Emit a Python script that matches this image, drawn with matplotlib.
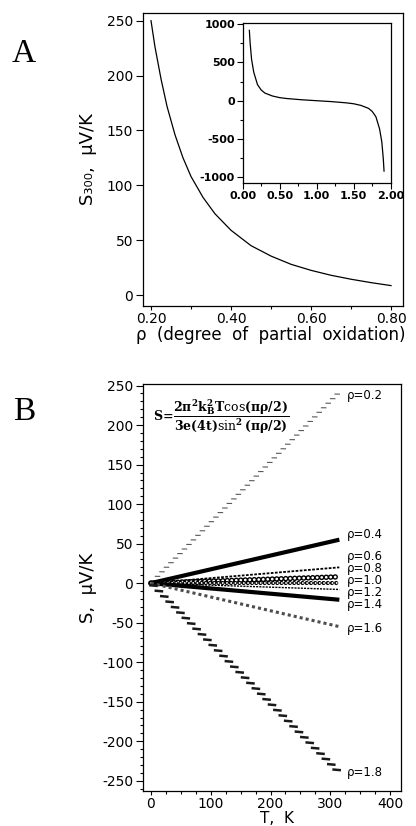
import matplotlib
matplotlib.use("Agg")
import matplotlib.pyplot as plt
from matplotlib import patheffects as pe
from matplotlib.ticker import MultipleLocator, FormatStrFormatter

# panel A: thermopower at 300 K against rho
RHO_A = [0.20, 0.21, 0.225, 0.24, 0.26, 0.28, 0.30, 0.33, 0.36, 0.40,
         0.45, 0.50, 0.55, 0.60, 0.65, 0.70, 0.75, 0.80]
S300_A = [250, 226, 197, 172, 146, 125, 108, 89, 74, 59,
          45, 35.5, 28, 22.5, 18, 14.4, 11.3, 8.6]

# inset: the whole rho range
RHO_INSET = [0.09, 0.10, 0.12, 0.15, 0.20, 0.25, 0.30, 0.40, 0.50, 0.60, 0.80, 1.00,
             1.20, 1.40, 1.50, 1.60, 1.70, 1.75, 1.80, 1.85, 1.88, 1.90, 1.91]
S_INSET = [920, 760, 540, 370, 210, 140, 100, 62, 40, 28, 12, 0,
           -12, -28, -40, -62, -100, -140, -210, -370, -540, -760, -920]

# panel B: S(T) straight lines, start and end of each
T_B = [0, 315]
RHO_B = [0.2, 0.4, 0.6, 0.8, 1.0, 1.2, 1.4, 1.6, 1.8]
S_B = [[0, 242], [0, 55], [0, 20], [0, 8], [0, 0],
       [0, -8], [0, -21], [0, -55], [0, -240]]
LABEL_Y_B = [238, 62, 34, 18, 3, -12, -27, -58, -240]

plt.rcParams['font.family'] = 'DejaVu Sans'
plt.rcParams['axes.unicode_minus'] = False
plt.rcParams['mathtext.fontset'] = 'dejavuserif'
plt.rcParams['mathtext.default'] = 'bf'
plt.rcParams['axes.linewidth'] = 0.9

W, H = 416, 826
fig = plt.figure(figsize=(W / 100, H / 100), dpi=100)


def box(l, t, r, b):
    return [l / W, 1 - b / H, (r - l) / W, (b - t) / H]


def ticks(ax, size=10, major=5, minor=3, pad=2):
    ax.tick_params(which='both', direction='out', width=0.8, labelsize=size, pad=pad)
    ax.tick_params(which='major', length=major)
    ax.tick_params(which='minor', length=minor)


# ---- panel A ----
ax_a = fig.add_axes(box(143, 13, 403, 306))
ax_a.plot(RHO_A, S300_A, color='black', lw=0.9)
ax_a.set_xlim(0.18, 0.83)
ax_a.set_ylim(-10, 257)
ax_a.xaxis.set_major_locator(MultipleLocator(0.2))
ax_a.xaxis.set_minor_locator(MultipleLocator(0.1))
ax_a.xaxis.set_major_formatter(FormatStrFormatter('%.2f'))
ax_a.yaxis.set_major_locator(MultipleLocator(50))
ticks(ax_a)
ax_a.tick_params(axis='x', which='major', length=3, pad=1.5)
ax_a.tick_params(axis='x', which='minor', length=2.5)
ax_a.set_ylabel('S₃₀₀,  μV/K', fontsize=13, va='center')
ax_a.yaxis.set_label_coords(-0.21, 0.5)
ax_a.set_xlabel('ρ  (degree  of  partial  oxidation)', fontsize=12, va='center')
ax_a.xaxis.set_label_coords(0.49, -0.098)

ax_in = fig.add_axes(box(242.7, 22.7, 390.7, 183.3))
ax_in.plot(RHO_INSET, S_INSET, color='black', lw=0.9)
ax_in.set_xlim(0, 2)
ax_in.set_ylim(-1080, 1020)
ax_in.xaxis.set_major_locator(MultipleLocator(0.5))
ax_in.xaxis.set_minor_locator(MultipleLocator(0.25))
ax_in.xaxis.set_major_formatter(FormatStrFormatter('%.2f'))
ax_in.yaxis.set_major_locator(MultipleLocator(500))
ax_in.yaxis.set_minor_locator(MultipleLocator(250))
ticks(ax_in, size=8, major=4, minor=2.5, pad=1.5)
for lab in ax_in.get_xticklabels() + ax_in.get_yticklabels():
    lab.set_fontweight('bold')

# ---- panel B ----
ax_b = fig.add_axes(box(143, 384, 401, 791))

line_styles = [
    dict(path_effects=[pe.TickedStroke(spacing=4.5, angle=134, length=0.7, offset=(1.6, 0),
                                       linewidth=0.8, foreground='0.35')]),
    dict(color='black', lw=3.0, solid_capstyle='butt'),
    dict(color='black', lw=1.3, linestyle=(0, (1.5, 0.8))),
    dict(color='black', lw=4.0, linestyle=(0, (0.01, 0.8)), dash_capstyle='round'),
    dict(color='black', lw=3.0, linestyle=(0, (0.01, 1.0)), dash_capstyle='round'),
    dict(color='black', lw=1.0, linestyle=(0, (1.5, 0.8))),
    dict(color='black', lw=3.0, solid_capstyle='butt'),
    dict(color='0.3', lw=2.2, linestyle=(0, (1, 1))),
    dict(path_effects=[pe.TickedStroke(spacing=5.5, angle=-140, length=0.8, offset=(2.2, 0),
                                       linewidth=1.8, foreground='0.1')]),
]
# white centres for the open-circle series
hollow = {3: dict(lw=2.0, linestyle=(0, (0.02, 1.6))),
          4: dict(lw=1.4, linestyle=(0, (0.02, 2.15)))}

for i, (rho, s) in enumerate(zip(RHO_B, S_B)):
    ax_b.plot(T_B, s, **line_styles[i])
    if i in hollow:
        ax_b.plot(T_B, s, color='white', dash_capstyle='round', **hollow[i])
    ax_b.text(328, LABEL_Y_B[i], f'ρ={rho:.1f}', fontsize=8.5, ha='left', va='center')

ax_b.set_xlim(-13, 418)
ax_b.set_ylim(-263, 252)
ax_b.xaxis.set_major_locator(MultipleLocator(100))
ax_b.xaxis.set_minor_locator(MultipleLocator(25))
ax_b.yaxis.set_major_locator(MultipleLocator(50))
ax_b.yaxis.set_minor_locator(MultipleLocator(10))
ticks(ax_b, minor=2.5)
ax_b.tick_params(axis='x', which='major', length=3, pad=1)
ax_b.set_ylabel('S,  μV/K', fontsize=13, va='center')
ax_b.yaxis.set_label_coords(-0.213, 0.5)
ax_b.set_xlabel('T,  K', fontsize=11, va='center')
ax_b.xaxis.set_label_coords(0.52, -0.067)

ax_b.text(0.039, 0.919,
          r'$S\!=\!\dfrac{2\pi^2k_B^2T\cos(\pi\rho/2)}{3e(4t)\sin^2(\pi\rho/2)}$',
          transform=ax_b.transAxes, fontsize=9, ha='left', va='center')

fig.text(24 / W, 1 - 54 / H, 'A', fontsize=24, family='Liberation Serif', ha='center', va='center')
fig.text(24 / W, 1 - 412 / H, 'B', fontsize=24, family='Liberation Serif', ha='center', va='center')

fig.savefig('out.png', dpi=100)
